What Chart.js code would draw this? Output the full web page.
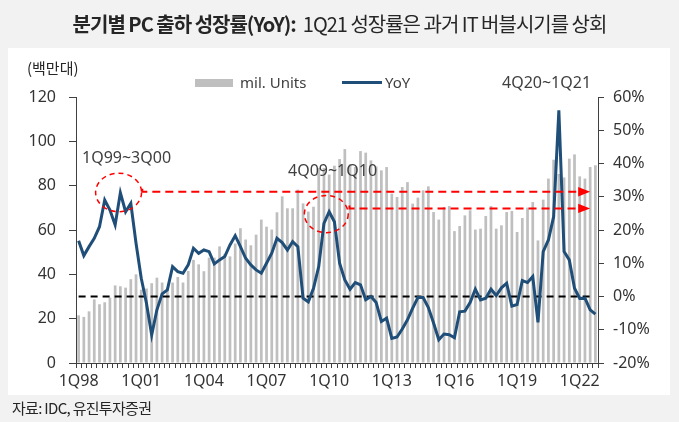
<!DOCTYPE html>
<html>
<head>
<meta charset="utf-8">
<script src="https://cdn.jsdelivr.net/npm/chart.js@4.4.1/dist/chart.umd.min.js"></script>
<style>
  html, body { margin: 0; padding: 0; background: #f2f2f2; }
  #wrap { position: relative; width: 679px; height: 422px; overflow: hidden; font-family: "Noto Sans CJK KR", "Noto Sans", sans-serif; color: #262626; }
  #panel { position: absolute; left: 8px; top: 48px; width: 662px; height: 347px; background: #fff; }
  #chart { position: absolute; left: 0; top: 0; }
  .txt { position: absolute; white-space: nowrap; line-height: 20px; }
  #title { left: 0; top: 10px; width: 679px; text-align: center; font-size: 20px; line-height: 28px; letter-spacing: -1px; }
  #title b { font-weight: 700; }
  .lab { font-family: "Noto Sans", sans-serif; font-size: 16px; color: #404040; }
  .swatch { position: absolute; }
</style>
</head>
<body>
<div id="wrap">
  <div id="panel"></div>
  <canvas id="chart" width="679" height="422"></canvas>
  <div id="title" class="txt"><b>분기별 PC 출하 성장률(YoY):</b>&nbsp; 1Q21 성장률은 과거 IT 버블시기를 상회</div>
  <div class="txt" style="left:27px;top:58px;font-size:15px;">(백만대)</div>
  <div class="swatch" style="left:195px;top:79px;width:38px;height:8px;background:#bfbfbf;"></div>
  <div class="txt lab" style="left:240px;top:72px;font-size:15px;">mil. Units</div>
  <div class="swatch" style="left:342px;top:81px;width:40px;height:3px;background:#1f4e79;"></div>
  <div class="txt lab" style="left:385px;top:72px;font-size:15px;">YoY</div>
  <div class="txt lab" style="left:82px;top:147px;">1Q99~3Q00</div>
  <div class="txt lab" style="left:288px;top:160px;">4Q09~1Q10</div>
  <div class="txt lab" style="left:502px;top:72px;">4Q20~1Q21</div>
  <div class="txt" style="left:12px;top:398px;font-size:15px;letter-spacing:-0.7px;">자료: IDC, 유진투자증권</div>
</div>
<script>
// 1Q98 ~ 4Q22 quarterly
const years = ['98','99','00','01','02','03','04','05','06','07','08','09','10','11','12','13','14','15','16','17','18','19','20','21','22'];
const quarters = [];
years.forEach(y => { for (let q = 1; q <= 4; q++) quarters.push(q + 'Q' + y); });

const tickLabels = ['1Q98','1Q01','1Q04','1Q07','1Q10','1Q13','1Q16','1Q19','1Q22'];

// shipments, mil. units
const units = [
  21.5, 20.8, 23.3, 28.7, 26.5, 27.4, 29.5, 35.0, 34.6, 34.0,
  37.8, 40.0, 33.1, 33.6, 36.0, 38.5, 36.3, 33.5, 36.3, 38.8,
  36.3, 41.5, 46.5, 44.5, 41.4, 47.5, 47.5, 52.6, 49.3, 48.1,
  53.9, 60.8, 55.7, 53.1, 57.9, 64.7, 61.5, 60.2, 68.0, 75.2,
  69.8, 69.8, 78.2, 72.0, 68.3, 70.5, 88.0, 88.0, 85.0, 89.0,
  92.0, 96.5, 89.6, 88.4, 95.6, 94.9, 91.4, 88.7, 86.9, 88.4,
  76.4, 74.9, 79.4, 81.6, 71.9, 74.6, 77.9, 79.7, 68.1, 64.7,
  70.4, 70.8, 59.5, 61.8, 66.6, 68.9, 60.2, 60.6, 66.3, 70.8,
  60.6, 62.1, 68.1, 68.6, 59.1, 65.4, 70.1, 72.6, 55.3, 73.7,
  83.2, 91.7, 85.3, 83.7, 92.2, 94.1, 84.2, 83.2, 88.4, 89.2
];

// YoY growth, %
const yoy = [
  16.8, 12.3, 15.0, 17.5, 21.0, 29.0, 26.0, 21.5, 31.2, 25.5,
  28.0, 16.0, 5.5, -2.0, -11.6, -4.0, 0.8, 2.0, 9.0, 7.5,
  7.0, 9.5, 14.5, 13.0, 14.0, 13.5, 9.8, 11.0, 12.0, 15.5,
  18.3, 15.0, 11.5, 9.5, 8.0, 7.0, 10.0, 13.0, 17.5, 16.2,
  14.0, 16.5, 15.0, -0.5, -1.6, 2.5, 9.0, 22.0, 25.5, 22.5,
  10.0, 5.0, 2.2, 4.2, 3.5, -1.0, 0.0, -1.8, -7.5, -6.5,
  -12.6, -12.2, -9.8, -7.0, -3.5, -0.3, -0.3, -3.3, -8.0, -13.0,
  -11.3, -11.5, -12.4, -4.6, -4.4, -1.8, 2.2, -1.0, -0.5, 2.2,
  0.3, 2.6, 4.0, -2.9, -2.4, 4.8, 4.2, 6.0, -7.8, 13.5,
  17.0, 24.0, 56.0, 13.5, 11.0, 2.5, -0.6, -0.5, -4.0, -5.3
];

// highlighted periods (category index / YoY %)
const circles = [
  { x: 7.66, y: 31.3, rx: 4.4, ry: 5.8 },
  { x: 47.45, y: 24.8, rx: 4.2, ry: 5.6 }
];
const arrows = [
  { from: 12.2, to: 98.0, y: 31.5 },
  { from: 51.9, to: 98.0, y: 26.5 }
];

Chart.defaults.font.family = "'Noto Sans', 'Noto Sans CJK KR', sans-serif";
Chart.defaults.font.size = 16;
Chart.defaults.color = '#333';

const overlay = {
  id: 'overlay',
  afterDatasetDraw(chart, args) {
    if (args.index !== 0) return;
    const { ctx } = chart;
    const x = chart.scales.x, y2 = chart.scales.y2;
    const yy = y2.getPixelForValue(0);
    ctx.save();
    ctx.strokeStyle = '#000';
    ctx.lineWidth = 2;
    ctx.setLineDash([7, 5]);
    ctx.beginPath();
    ctx.moveTo(x.getPixelForValue(0), yy);
    ctx.lineTo(x.getPixelForValue(98.3), yy);
    ctx.stroke();
    ctx.restore();
  },
  afterDatasetsDraw(chart) {
    const { ctx } = chart;
    const x = chart.scales.x, y2 = chart.scales.y2;
    const px = v => x.getPixelForValue(v);
    const py = v => y2.getPixelForValue(v);
    const unitX = px(1) - px(0);
    const unitY = py(0) - py(1);
    ctx.save();
    ctx.strokeStyle = '#ff0000';
    ctx.fillStyle = '#ff0000';
    ctx.lineWidth = 1.5;
    ctx.setLineDash([5, 4]);
    circles.forEach(c => {
      ctx.beginPath();
      ctx.ellipse(px(c.x), py(c.y), c.rx * unitX, c.ry * unitY, 0, 0, Math.PI * 2);
      ctx.stroke();
    });
    ctx.lineWidth = 2;
    ctx.setLineDash([8, 5]);
    arrows.forEach(a => {
      const x0 = px(a.from), x1 = px(a.to), yy = py(a.y);
      ctx.beginPath();
      ctx.moveTo(x0, yy - 3);
      ctx.lineTo(x0, yy);
      ctx.lineTo(x1 - 12, yy);
      ctx.stroke();
      ctx.beginPath();
      ctx.moveTo(x1, yy);
      ctx.lineTo(x1 - 12, yy - 4.7);
      ctx.lineTo(x1 - 12, yy + 4.7);
      ctx.closePath();
      ctx.fill();
    });
    ctx.restore();
  }
};

const axisColor = '#404040';

new Chart(document.getElementById('chart'), {
  data: {
    labels: quarters,
    datasets: [
      {
        type: 'bar',
        label: 'mil. Units',
        data: units,
        backgroundColor: '#bfbfbf',
        barPercentage: 0.52,
        categoryPercentage: 1,
        yAxisID: 'y',
        order: 2
      },
      {
        type: 'line',
        label: 'YoY',
        data: yoy,
        borderColor: '#1f4e79',
        borderWidth: 3,
        pointRadius: 0,
        tension: 0,
        yAxisID: 'y2',
        order: 1
      }
    ]
  },
  options: {
    responsive: false,
    animation: false,
    layout: { padding: { top: 97, left: 0, right: 0, bottom: 0 } },
    plugins: { legend: { display: false }, tooltip: { enabled: false } },
    scales: {
      x: {
        type: 'category',
        offset: true,
        grid: { offset: true, drawOnChartArea: false, drawTicks: true, tickLength: 5, color: axisColor },
        border: { display: true, color: axisColor, width: 1 },
        ticks: {
          autoSkip: false, maxRotation: 0, minRotation: 0, padding: 4,
          callback: (v, i) => tickLabels.includes(quarters[i]) ? quarters[i] : ''
        },
        afterFit: s => { s.height = 59; }
      },
      y: {
        position: 'left',
        min: 0, max: 120,
        grid: { drawOnChartArea: false, tickLength: 7, color: axisColor },
        border: { display: true, color: axisColor },
        ticks: { stepSize: 20, padding: 13 },
        afterFit: s => { s.width = 76; }
      },
      y2: {
        position: 'right',
        min: -20, max: 60,
        grid: { drawOnChartArea: false, tickLength: 6, color: axisColor },
        border: { display: true, color: axisColor },
        ticks: { stepSize: 10, padding: 9, callback: v => v + '%' },
        afterFit: s => { s.width = 81; }
      }
    }
  },
  plugins: [overlay]
});
</script>
</body>
</html>
